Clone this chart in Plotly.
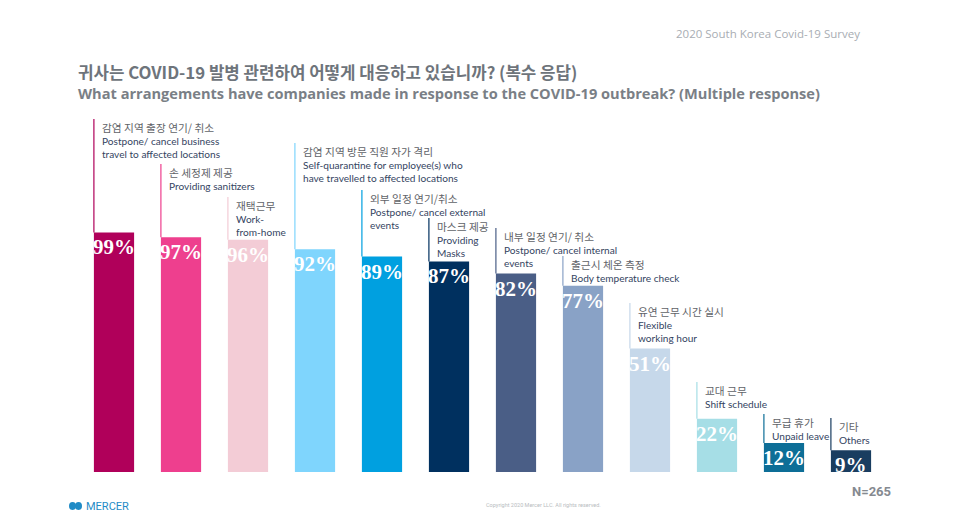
import plotly.graph_objects as go

# ---------------- data ----------------
labels_ko = [
    "감염 지역 출장 연기/ 취소", "손 세정제 제공", "재택근무", "감염 지역 방문 직원 자가 격리",
    "외부 일정 연기/취소", "마스크 제공", "내부 일정 연기/ 취소", "출근시 체온 측정",
    "유연 근무 시간 실시", "교대 근무", "무급 휴가", "기타",
]
labels_en = [
    "Postpone/ cancel business<br>travel to affected locations",
    "Providing sanitizers",
    "Work-<br>from-home",
    "Self-quarantine for employee(s) who<br>have travelled to affected locations",
    "Postpone/ cancel external<br>events",
    "Providing<br>Masks",
    "Postpone/ cancel internal<br>events",
    "Body temperature check",
    "Flexible<br>working hour",
    "Shift schedule",
    "Unpaid leave",
    "Others",
]
values = [99, 97, 96, 92, 89, 87, 82, 77, 51, 22, 12, 9]

# ---------------- style ----------------
colors = ["#B0005A", "#EE3F8E", "#F3CCD6", "#7FD5FD", "#00A0E0", "#00305F",
          "#4A5E86", "#89A2C6", "#C6D8EA", "#A6DEE6", "#0D6E97", "#193D60"]
label_top_px = [119, 164, 197, 143, 190, 218, 228, 256, 303, 382, 414, 418]

W, H = 960, 520
BOTTOM_PX = 472
PX_PER_UNIT = 2.42
YMAX = BOTTOM_PX / PX_PER_UNIT
HALF = 0.3  # half bar width in category units


def py_to_y(py):
    return (BOTTOM_PX - py) / PX_PER_UNIT


x_idx = list(range(len(values)))

fig = go.Figure()
fig.add_trace(go.Bar(
    x=x_idx, y=values, marker=dict(color=colors, line=dict(width=0)),
    width=2 * HALF, hoverinfo="skip",
))

annotations = []
shapes = []
for i, (v, ko, en, c, top) in enumerate(zip(values, labels_ko, labels_en, colors, label_top_px)):
    # thin leader line at bar left edge
    shapes.append(dict(type="line", xref="x", yref="y",
                       x0=i - HALF, x1=i - HALF, y0=v, y1=py_to_y(top),
                       line=dict(color=c, width=1.2)))
    annotations.append(dict(
        x=i - HALF, y=py_to_y(top - 1), xref="x", yref="y",
        xanchor="left", yanchor="top", xshift=6, align="left", showarrow=False,
        text=(f"<span style='color:#5f6368;font-family:Noto Sans CJK KR;font-size:10.7px'>{ko}</span>"
              f"<br><span style='color:#34445f'>{en}</span>"),
        font=dict(family="Lato, Noto Sans CJK KR", size=10.1, color="#34445f"),
    ))
    annotations.append(dict(
        x=i, y=v, xref="x", yref="y", xanchor="center", yanchor="top",
        yshift=-1, showarrow=False, text=f"<b>{v}%</b>",
        font=dict(family="Liberation Serif", size=21, color="white"),
    ))


def px(xp):
    return xp / W


def py(yp):
    return 1 - yp / H


annotations += [
    dict(x=px(862), y=py(33), xref="paper", yref="paper", xanchor="right", yanchor="middle",
         showarrow=False, text="2020 South Korea Covid-19 Survey",
         font=dict(family="Open Sans", size=11.5, color="#a8adb3")),
    dict(x=px(76), y=py(72), xref="paper", yref="paper", xanchor="left", yanchor="middle",
         showarrow=False, text="<b>귀사는 COVID-19 발병 관련하여 어떻게 대응하고 있습니까? (복수 응답)</b>",
         font=dict(family="Noto Sans CJK KR", size=16.8, color="#6e747b")),
    dict(x=px(76), y=py(93), xref="paper", yref="paper", xanchor="left", yanchor="middle",
         showarrow=False,
         text="<b>What arrangements have companies made in response to the COVID-19 outbreak? (Multiple response)</b>",
         font=dict(family="Open Sans", size=14.6, color="#7a7f86")),
    dict(x=px(893), y=py(491), xref="paper", yref="paper", xanchor="right", yanchor="middle",
         showarrow=False, text="<b>N=265</b>",
         font=dict(family="Liberation Sans Narrow, Roboto", size=13, color="#858a90")),
    dict(x=px(84), y=py(506), xref="paper", yref="paper", xanchor="left", yanchor="middle",
         showarrow=False, text="MERCER",
         font=dict(family="Roboto", size=11, color="#1f8bc6")),
    dict(x=px(543), y=py(505), xref="paper", yref="paper", xanchor="center", yanchor="middle",
         showarrow=False, text="Copyright 2020 Mercer LLC. All rights reserved.",
         font=dict(family="Roboto", size=5.5, color="#b8bcc0")),
]

# small logo mark
shapes += [
    dict(type="circle", xref="paper", yref="paper", x0=px(69), x1=px(76), y0=py(510), y1=py(502),
         fillcolor="#1f8bc6", line=dict(width=0)),
    dict(type="circle", xref="paper", yref="paper", x0=px(75), x1=px(82), y0=py(510), y1=py(502),
         fillcolor="#1f8bc6", line=dict(width=0)),
]

fig.update_layout(
    width=W, height=H, margin=dict(l=0, r=0, t=0, b=0),
    paper_bgcolor="white", plot_bgcolor="white", showlegend=False,
    xaxis=dict(domain=[80.5 / W, 884.5 / W], range=[-0.5, len(values) - 0.5],
               visible=False, fixedrange=True),
    yaxis=dict(domain=[(H - BOTTOM_PX) / H, 1], range=[0, YMAX], visible=False, fixedrange=True),
    annotations=annotations, shapes=shapes,
)

fig.write_html("out.html")
